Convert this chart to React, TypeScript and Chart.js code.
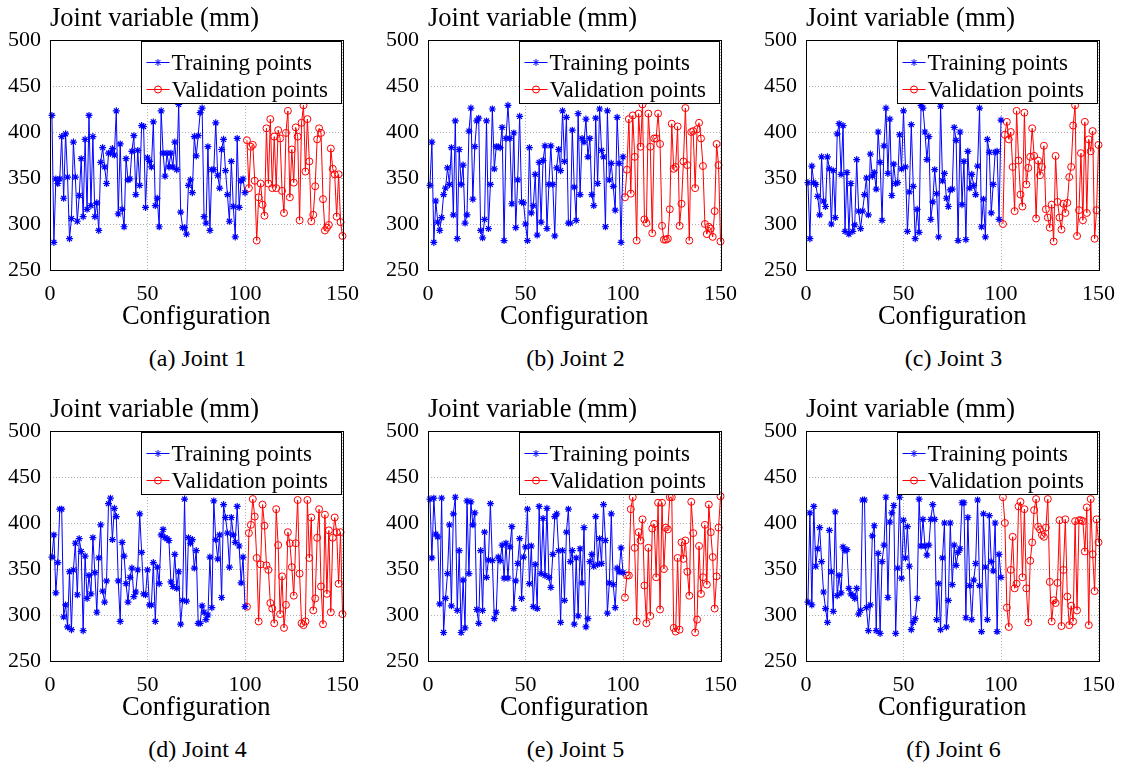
import React, { useEffect, useRef } from 'react';
import { Chart, registerables } from 'chart.js';

Chart.register(...registerables);

const FONT = '"Liberation Serif", "Times New Roman", Times, serif';

// Tick values
const xTickStep = 50;
const xMin = 0;
const xMax = 150;
const yMin = 250;
const yMax = 500;
const yTickStep = 50;

const seriesNames = ['Training points', 'Validation points'];
const captions = ['(a) Joint 1', '(b) Joint 2', '(c) Joint 3', '(d) Joint 4', '(e) Joint 5', '(f) Joint 6'];
const yTitle = 'Joint variable (mm)';
const xTitle = 'Configuration';

// Configuration indices: training 1..100, validation 101..150
const trainStart = 1;
const validStart = 101;

const joint1Train = [
  418, 280, 349, 344, 349, 395, 328, 398, 351, 284,
  306, 389, 351, 303, 331, 371, 308, 392, 316, 418,
  320, 395, 308, 323, 293, 367, 383, 362, 344, 377,
  377, 382, 375, 423, 311, 387, 316, 297, 371, 348,
  349, 379, 396, 332, 380, 342, 407, 406, 318, 372,
  368, 362, 411, 320, 328, 297, 423, 377, 352, 377,
  362, 377, 362, 389, 359, 430, 313, 296, 296, 289,
  342, 348, 334, 395, 374, 396, 421, 426, 308, 301,
  384, 293, 359, 359, 410, 353, 339, 381, 392, 358,
  332, 303, 368, 319, 286, 393, 318, 347, 349, 334,
];
const joint1Valid = [
  391, 339, 384, 386, 347, 282, 329, 344, 321, 309,
  404, 344, 414, 339, 395, 339, 402, 393, 336, 312,
  399, 423, 329, 381, 345, 405, 395, 304, 410, 429,
  357, 414, 368, 303, 310, 341, 392, 404, 399, 327,
  293, 296, 299, 382, 360, 354, 308, 354, 302, 287,
];

const joint2Train = [
  342, 389, 280, 325, 302, 293, 307, 332, 339, 361,
  343, 383, 310, 412, 284, 381, 343, 364, 301, 310,
  401, 426, 327, 384, 412, 415, 293, 285, 305, 412,
  295, 343, 425, 360, 384, 384, 383, 405, 282, 393,
  429, 393, 322, 399, 296, 348, 417, 324, 323, 300,
  282, 383, 312, 320, 354, 288, 367, 302, 369, 385,
  295, 343, 385, 343, 287, 361, 381, 358, 423, 368,
  416, 301, 301, 402, 340, 304, 420, 332, 393, 389,
  414, 373, 393, 332, 320, 415, 344, 425, 380, 373,
  297, 423, 348, 366, 341, 315, 416, 366, 280, 373,
];
const joint2Valid = [
  329, 359, 414, 333, 418, 373, 282, 420, 384, 430,
  305, 301, 420, 384, 290, 393, 393, 420, 387, 298,
  283, 283, 284, 316, 409, 360, 362, 406, 298, 322,
  368, 426, 364, 282, 400, 401, 339, 403, 410, 393,
  363, 300, 289, 297, 295, 286, 314, 387, 364, 281,
];

const joint3Train = [
  345, 284, 363, 345, 343, 330, 310, 373, 325, 319,
  373, 360, 300, 358, 307, 398, 409, 354, 407, 292,
  356, 289, 344, 292, 299, 370, 314, 295, 314, 332,
  350, 310, 376, 352, 356, 338, 400, 367, 304, 385,
  426, 355, 414, 331, 365, 344, 345, 397, 360, 423,
  362, 292, 335, 408, 341, 284, 316, 291, 429, 426,
  400, 370, 395, 305, 324, 359, 333, 286, 428, 347,
  355, 328, 319, 337, 338, 405, 391, 282, 400, 321,
  368, 283, 379, 339, 354, 342, 332, 363, 426, 297,
  327, 286, 392, 378, 312, 343, 378, 379, 305, 413,
];
const joint3Valid = [
  300, 397, 411, 392, 400, 362, 314, 423, 369, 332,
  319, 421, 343, 361, 373, 404, 374, 306, 369, 353,
  362, 385, 316, 307, 296, 321, 281, 374, 324, 307,
  294, 322, 312, 323, 351, 362, 407, 429, 287, 315,
  377, 304, 411, 312, 392, 379, 401, 284, 315, 386,
];

const joint4Train = [
  363, 387, 324, 357, 415, 415, 298, 311, 287, 347,
  284, 349, 378, 322, 383, 369, 283, 364, 318, 343,
  323, 384, 346, 303, 362, 398, 326, 314, 337, 421,
  427, 382, 416, 407, 337, 293, 379, 364, 334, 314,
  341, 351, 320, 325, 349, 410, 368, 323, 322, 349,
  311, 311, 357, 293, 352, 334, 387, 393, 384, 383,
  381, 336, 331, 366, 329, 347, 290, 316, 426, 315,
  384, 378, 382, 351, 370, 291, 291, 310, 303, 295,
  300, 363, 308, 424, 382, 361, 387, 319, 420, 406,
  389, 352, 406, 387, 379, 418, 375, 335, 363, 309,
];
const joint4Valid = [
  309, 389, 398, 426, 407, 362, 293, 355, 420, 397,
  354, 349, 313, 307, 291, 415, 376, 301, 342, 286,
  311, 390, 378, 352, 321, 378, 425, 345, 291, 289,
  293, 425, 362, 406, 305, 318, 384, 415, 331, 290,
  409, 323, 392, 303, 384, 406, 390, 334, 390, 301,
];

const joint5Train = [
  426, 362, 427, 388, 385, 312, 427, 281, 318, 345,
  398, 310, 410, 428, 305, 370, 281, 338, 286, 424,
  345, 423, 398, 411, 306, 291, 370, 305, 390, 341,
  360, 421, 359, 296, 303, 363, 359, 376, 340, 378,
  340, 374, 396, 307, 337, 356, 383, 318, 363, 374,
  415, 334, 375, 309, 355, 307, 418, 345, 405, 343,
  416, 341, 330, 366, 407, 410, 370, 292, 370, 316,
  390, 415, 358, 370, 290, 362, 299, 372, 335, 395,
  287, 296, 358, 366, 353, 407, 355, 383, 356, 420,
  381, 302, 335, 410, 333, 308, 351, 347, 373, 346,
];
const joint5Valid = [
  319, 343, 343, 415, 428, 373, 293, 390, 381, 404,
  332, 291, 373, 299, 394, 399, 341, 422, 306, 422,
  350, 395, 393, 428, 428, 286, 282, 362, 284, 379,
  361, 381, 347, 321, 423, 389, 281, 295, 375, 323,
  341, 398, 333, 420, 390, 363, 307, 342, 395, 429,
];

const joint6Train = [
  314, 411, 311, 418, 353, 372, 395, 358, 325, 307,
  292, 392, 347, 304, 412, 321, 343, 324, 374, 370,
  371, 329, 323, 321, 318, 329, 301, 305, 425, 425,
  308, 283, 311, 386, 397, 283, 367, 280, 358, 376,
  428, 319, 401, 411, 419, 280, 351, 428, 340, 403,
  362, 396, 353, 284, 292, 296, 318, 426, 375, 404,
  375, 365, 376, 404, 420, 404, 295, 334, 284, 362,
  400, 287, 316, 400, 333, 376, 354, 368, 372, 422,
  422, 297, 406, 332, 295, 338, 356, 425, 332, 282,
  410, 352, 295, 408, 358, 348, 400, 282, 366, 341,
];
const joint6Valid = [
  428, 400, 308, 287, 349, 385, 329, 334, 418, 423,
  341, 415, 329, 292, 359, 379, 414, 426, 396, 393,
  387, 385, 395, 426, 336, 293, 316, 313, 335, 403,
  288, 349, 404, 320, 289, 310, 293, 402, 305, 403,
  403, 402, 369, 417, 289, 426, 366, 326, 404, 379,
];

const trainSeries = [joint1Train, joint2Train, joint3Train, joint4Train, joint5Train, joint6Train];
const validSeries = [joint1Valid, joint2Valid, joint3Valid, joint4Valid, joint5Valid, joint6Valid];

const TRAIN_COLOR = '#0000ff';
const VALID_COLOR = '#ff0000';

// Panel geometry (page pixels)
const COL_STEP = 378;
const ROW_STEP = 391;
const CANVAS_W = 370;
const CANVAS_H = 340;

function drawStar(ctx: CanvasRenderingContext2D, x: number, y: number, r: number) {
  ctx.beginPath();
  ctx.moveTo(x - r, y);
  ctx.lineTo(x + r, y);
  ctx.moveTo(x, y - r);
  ctx.lineTo(x, y + r);
  const d = r * 0.72;
  ctx.moveTo(x - d, y - d);
  ctx.lineTo(x + d, y + d);
  ctx.moveTo(x - d, y + d);
  ctx.lineTo(x + d, y - d);
  ctx.stroke();
}

const framePlugin = {
  id: 'frameBox',
  afterDatasetsDraw(chart: any) {
    const { ctx, chartArea } = chart;
    ctx.save();
    ctx.strokeStyle = '#000';
    ctx.lineWidth = 1;
    ctx.strokeRect(
      Math.round(chartArea.left) + 0.5,
      Math.round(chartArea.top) + 0.5,
      Math.round(chartArea.right - chartArea.left),
      Math.round(chartArea.bottom - chartArea.top)
    );
    ctx.restore();
  },
};

const legendPlugin = {
  id: 'boxLegend',
  afterDraw(chart: any) {
    const { ctx, chartArea } = chart;
    const w = 200;
    const h = 62;
    const left = Math.round(chartArea.right) - 202 + 0.5;
    const top = Math.round(chartArea.top) + 1 + 0.5;
    ctx.save();
    ctx.fillStyle = '#fff';
    ctx.fillRect(left, top, w, h);
    ctx.strokeStyle = '#000';
    ctx.lineWidth = 1;
    ctx.strokeRect(left, top, w, h);
    const rows = [
      { y: top + 21, color: TRAIN_COLOR, star: true, text: seriesNames[0] },
      { y: top + 48, color: VALID_COLOR, star: false, text: seriesNames[1] },
    ];
    ctx.font = `23px ${FONT}`;
    ctx.textBaseline = 'middle';
    ctx.textAlign = 'left';
    for (const r of rows) {
      ctx.strokeStyle = r.color;
      ctx.lineWidth = 1;
      ctx.beginPath();
      ctx.moveTo(left + 5, r.y);
      ctx.lineTo(left + 28, r.y);
      ctx.stroke();
      if (r.star) {
        drawStar(ctx, left + 16.5, r.y, 3.5);
      } else {
        ctx.beginPath();
        ctx.arc(left + 16.5, r.y, 3.5, 0, Math.PI * 2);
        ctx.stroke();
      }
      ctx.fillStyle = '#000';
      ctx.fillText(r.text, left + 30, r.y + 1);
    }
    ctx.restore();
  },
};

function Panel({ idx }: { idx: number }) {
  const ref = useRef<HTMLCanvasElement>(null);
  useEffect(() => {
    const train = trainSeries[idx];
    const valid = validSeries[idx];
    const chart = new Chart(ref.current as HTMLCanvasElement, {
      type: 'line',
      data: {
        datasets: [
          {
            label: seriesNames[0],
            data: train.map((v, i) => ({ x: trainStart + i, y: v })),
            borderColor: TRAIN_COLOR,
            backgroundColor: TRAIN_COLOR,
            borderWidth: 1,
            pointStyle: 'star',
            pointRadius: 3.5,
            pointBorderWidth: 1.2,
            pointBorderColor: TRAIN_COLOR,
            tension: 0,
            fill: false,
            clip: 8,
          } as any,
          {
            label: seriesNames[1],
            data: valid.map((v, i) => ({ x: validStart + i, y: v })),
            borderColor: VALID_COLOR,
            backgroundColor: 'rgba(0,0,0,0)',
            borderWidth: 1,
            pointStyle: 'circle',
            pointRadius: 3.5,
            pointBorderWidth: 1,
            pointBorderColor: VALID_COLOR,
            pointBackgroundColor: 'rgba(0,0,0,0)',
            tension: 0,
            fill: false,
            clip: 8,
          } as any,
        ],
      },
      options: {
        responsive: false,
        animation: false,
        events: [],
        layout: { padding: { top: 40, right: CANVAS_W - 345, left: 0, bottom: 7 } },
        plugins: {
          legend: { display: false },
          tooltip: { enabled: false },
          title: { display: false },
        },
        scales: {
          x: {
            type: 'linear',
            min: xMin,
            max: xMax,
            ticks: {
              stepSize: xTickStep,
              color: '#000',
              font: { family: FONT, size: 22 },
              padding: 11,
              maxRotation: 0,
              autoSkip: false,
            },
            grid: { color: '#b0b0b0', lineWidth: 1, drawTicks: false, borderDash: [1, 2] } as any,
            border: { display: false, dash: [1, 2] } as any,
            title: {
              display: true,
              text: xTitle,
              color: '#000',
              font: { family: FONT, size: 26.5 },
              padding: 0,
            },
            afterFit: (s: any) => {
              s.height = 63;
            },
          } as any,
          y: {
            type: 'linear',
            min: yMin,
            max: yMax,
            ticks: {
              stepSize: yTickStep,
              color: '#000',
              font: { family: FONT, size: 22 },
              padding: 9,
              autoSkip: false,
            },
            grid: { color: '#b0b0b0', lineWidth: 1, drawTicks: false, borderDash: [1, 2] } as any,
            border: { display: false, dash: [1, 2] } as any,
            afterFit: (s: any) => {
              s.width = 50;
            },
          } as any,
        },
      },
      plugins: [framePlugin, legendPlugin],
    });
    return () => chart.destroy();
  }, [idx]);

  const col = idx % 3;
  const row = Math.floor(idx / 3);
  const left = col * COL_STEP;
  const top = row * ROW_STEP;
  return (
    <>
      <canvas
        ref={ref}
        width={CANVAS_W}
        height={CANVAS_H}
        style={{ position: 'absolute', left, top, width: CANVAS_W, height: CANVAS_H }}
      />
      <div
        style={{
          position: 'absolute',
          left: left + 50,
          top: top + 17 - 15,
          height: 30,
          lineHeight: '30px',
          fontFamily: FONT,
          fontSize: 26.5,
          color: '#000',
          whiteSpace: 'nowrap',
        }}
      >
        {yTitle}
      </div>
      <div
        style={{
          position: 'absolute',
          left: left + 50,
          width: 295,
          top: top + 358 - 14,
          height: 28,
          lineHeight: '28px',
          fontFamily: FONT,
          fontSize: 24,
          color: '#000',
          textAlign: 'center',
          whiteSpace: 'nowrap',
        }}
      >
        {captions[idx]}
      </div>
    </>
  );
}

export default function App() {
  return (
    <div
      style={{
        position: 'absolute',
        left: 0,
        top: 0,
        width: 1124,
        height: 767,
        background: '#fff',
        overflow: 'hidden',
      }}
    >
      {[0, 1, 2, 3, 4, 5].map((i) => (
        <Panel key={i} idx={i} />
      ))}
    </div>
  );
}
